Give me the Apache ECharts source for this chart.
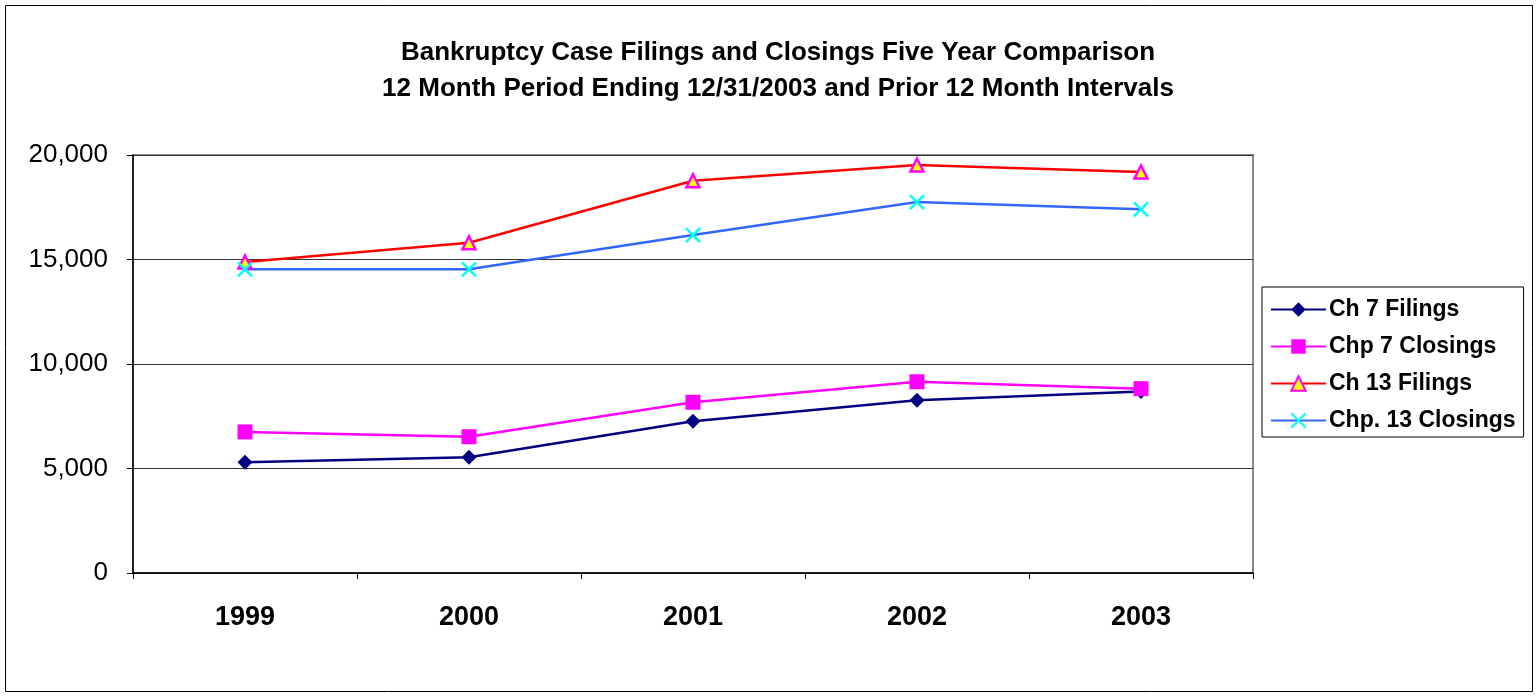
<!DOCTYPE html>
<html>
<head>
<meta charset="utf-8">
<script src="https://cdn.jsdelivr.net/npm/echarts@6/dist/echarts.min.js"></script>
<style>html,body{margin:0;padding:0;background:#fff}#c{width:1539px;height:697px}</style>
</head>
<body>
<div id="c"></div>
<script>
const years = ['1999', '2000', '2001', '2002', '2003'];
const ch7Filings = [5300, 5540, 7260, 8270, 8680];
const ch7Closings = [6750, 6520, 8170, 9150, 8820];
const ch13Filings = [14880, 15800, 18770, 19520, 19190];
const ch13Closings = [14530, 14530, 16170, 17750, 17400];
const yTicks = [0, 5000, 10000, 15000, 20000];

const chart = echarts.init(document.getElementById('c'));
const F = 'Arial, "Liberation Sans", sans-serif';
const xPath = 'path://M0,0L10,10M10,0L0,10';
chart.setOption({
  animation: false,
  textStyle: { fontFamily: F },
  graphic: [{
    type: 'rect', shape: { x: 5.5, y: 5.5, width: 1527, height: 686 },
    style: { fill: 'none', stroke: '#000', lineWidth: 1 }, silent: true
  }],
  title: {
    text: 'Bankruptcy Case Filings and Closings Five Year Comparison\n12 Month Period Ending 12/31/2003 and Prior 12 Month Intervals',
    left: 773, textAlign: 'center', top: 30,
    textStyle: { fontFamily: F, fontSize: 26, fontWeight: 'bold', color: '#000', lineHeight: 36 }
  },
  legend: {
    orient: 'vertical', left: 1262, top: 287, width: 262,
    padding: [11, 8, 5, 8], itemGap: 14, itemWidth: 55, itemHeight: 18,
    borderColor: '#000', borderWidth: 1,
    textStyle: { fontFamily: F, fontSize: 23, fontWeight: 'bold', color: '#000', padding: [0, 0, 0, -2] },
    data: ['Ch 7 Filings', 'Chp 7 Closings', 'Ch 13 Filings', 'Chp. 13 Closings']
  },
  grid: { left: 133, top: 155, right: 1539 - 1253, bottom: 697 - 573, show: true, borderColor: '#888', borderWidth: 2, backgroundColor: 'transparent' },
  xAxis: {
    type: 'category', data: years, boundaryGap: true,
    axisLine: { lineStyle: { color: '#000', width: 1.5 } },
    axisTick: { show: true, length: 6, lineStyle: { color: '#000' }, alignWithLabel: false },
    axisLabel: { fontFamily: F, fontSize: 27, fontWeight: 'bold', color: '#000', margin: 31 },
    splitLine: { show: false }
  },
  yAxis: {
    type: 'value', min: yTicks[0], max: yTicks[yTicks.length - 1], interval: 5000,
    axisLine: { show: true, lineStyle: { color: '#000', width: 1.5 } },
    axisTick: { show: true, length: 6, lineStyle: { color: '#000' } },
    axisLabel: { fontFamily: F, fontSize: 26, color: '#000', margin: 25,
      formatter: v => v.toLocaleString('en-US') },
    splitLine: { show: true, lineStyle: { color: '#333', width: 1 } }
  },
  series: [
    { name: 'Ch 7 Filings', type: 'line', data: ch7Filings, symbol: 'diamond', symbolSize: 15,
      lineStyle: { color: '#000080', width: 2.5 }, itemStyle: { color: '#000080' } },
    { name: 'Chp 7 Closings', type: 'line', data: ch7Closings, symbol: 'rect', symbolSize: 15,
      lineStyle: { color: '#FF00FF', width: 2.5 }, itemStyle: { color: '#FF00FF' } },
    { name: 'Ch 13 Filings', type: 'line', data: ch13Filings, symbol: 'triangle', symbolSize: 13,
      lineStyle: { color: '#FF0000', width: 2.5 }, itemStyle: { color: '#FFFF00', borderColor: '#FF00FF', borderWidth: 2.5 } },
    { name: 'Chp. 13 Closings', type: 'line', data: ch13Closings, symbol: xPath, symbolSize: 14,
      lineStyle: { color: '#3366FF', width: 2.5 }, itemStyle: { color: '#00FFFF', borderColor: '#00FFFF', borderWidth: 2.5 } }
  ]
});
</script>
</body>
</html>
